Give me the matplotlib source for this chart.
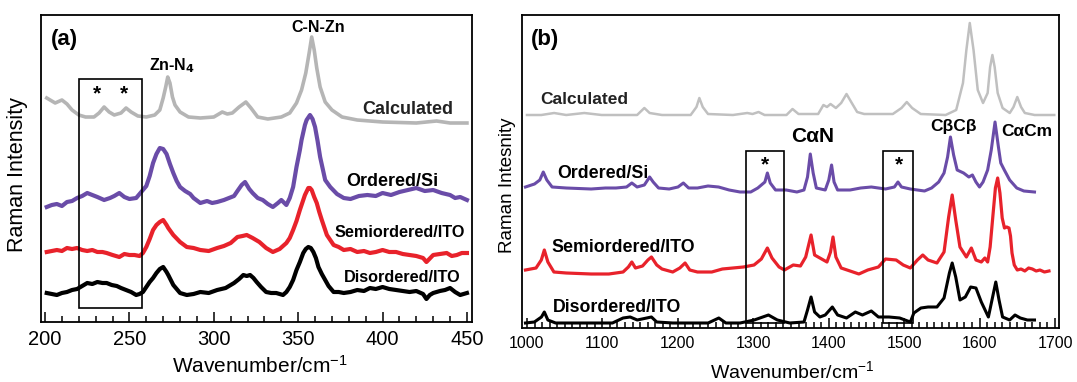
import matplotlib
matplotlib.use("Agg")
import matplotlib.pyplot as plt
from matplotlib.patches import Rectangle
from matplotlib.ticker import MultipleLocator

plt.rcParams['font.family'] = ['Liberation Sans', 'DejaVu Sans']
plt.rcParams['mathtext.default'] = 'regular'

# ---------------- Panel (a) data: wavenumber (cm-1) / intensity (a.u.) ----------------
a_calc_x = [201, 206, 210, 213, 216, 220, 224, 229, 232, 235, 238, 241, 245, 248, 251, 255, 260, 265,
            268, 270, 271.5, 272.7, 274, 275.5, 277, 280, 285, 292, 300, 305, 308, 311, 315, 319, 322,
            326, 332, 340, 345, 349, 352, 354.5, 356.5, 358, 359.5, 361, 363, 366, 370, 376, 385, 400,
            420, 432, 440, 450]
a_calc_y = [224, 219, 222, 218, 212, 207, 205, 205, 209, 215, 210, 207, 209, 214, 210, 206, 205, 207,
            212, 224, 235, 245, 239, 225, 217, 210, 205, 204, 205, 210, 208, 209, 215, 220, 214,
            205, 203, 205, 209, 219, 232, 249, 269, 285, 272, 254, 235, 220, 212, 205, 202, 200,
            199, 201, 199, 199]

a_ord_x = [201, 204, 207, 210, 213, 216, 219, 222, 225, 228, 231, 235, 238.5, 241, 244, 247, 250, 254,
           258, 260, 262, 264, 266, 268, 270, 272, 274, 276, 278, 280, 283, 286, 288, 292, 296, 299,
           302, 306, 309, 312, 314, 316.5, 318.5, 321, 323, 326, 329, 332, 335, 338, 340, 343, 345,
           347, 349, 351, 352, 354, 355, 357, 358.5, 360, 361.5, 363, 366, 369, 373, 377, 381, 386,
           391, 396, 400, 405, 410, 415, 420, 425, 430, 435, 440, 443, 446, 450]
a_ord_y = [115, 117, 118, 116, 120, 121, 124, 126, 129, 127, 125, 122, 124, 126, 129, 125, 123, 124,
           132, 136, 146, 159, 168, 174, 173, 168, 158, 149, 141, 135, 131, 128, 124, 119, 121, 119,
           120, 122, 124, 126, 131, 137, 140, 133, 129, 124, 122, 118, 115, 119, 122, 117, 124,
           135, 155, 172, 182, 197, 202, 207, 203, 195, 181, 165, 142, 135, 128, 124, 123, 126,
           127, 126, 129, 127, 130, 132, 134, 131, 132, 129, 127, 124, 125, 122]

a_semi_x = [201, 204, 207, 210, 213, 216, 219, 222, 225, 228, 231, 234, 236.5, 240, 244, 247, 250, 253,
            256, 258, 260, 262, 264, 266, 268, 270, 272, 273, 276, 280, 284, 288, 292, 297, 302, 306,
            310, 314, 317, 319.5, 323, 327, 331, 335, 339, 343, 345, 347, 349, 351, 353, 354, 356,
            357, 358, 359.5, 361, 362.5, 364, 367, 371, 374, 377, 381, 385, 389, 392.5, 396, 400,
            404, 408, 412, 416, 420, 424, 426, 430, 434, 438, 441, 444, 447, 450]
a_semi_y = [70, 71, 72, 71, 74, 73, 74, 72, 71, 72, 70, 70, 69, 67, 65, 68, 67, 67,
            66, 69, 75, 83, 92, 97, 100, 102, 97, 94, 87, 80, 75, 74, 72, 71, 74, 76,
            79, 85, 86, 87, 84, 80, 74, 70, 73, 79, 84, 92, 101, 112, 122, 127, 134,
            134, 132, 125, 119, 110, 102, 87, 77, 75, 72, 73, 70, 71, 69, 70, 72,
            70, 70, 68, 67, 66, 64, 60, 67, 68, 69, 66, 67, 69, 69]

a_dis_x = [201, 204, 207, 210, 213, 216, 219, 222, 225, 228, 231, 234, 236.5, 239.5, 242.5, 245, 248,
           251, 254, 256, 258, 260, 262, 264, 266, 268, 270, 272, 273, 276, 278, 280, 284, 288, 292,
           297, 302, 307, 312, 315, 317.5, 319.5, 321.5, 323.5, 325.4, 328, 331, 334, 337, 341, 343,
           345, 347, 349, 351, 353, 354.5, 356, 357.5, 359, 360.5, 362, 364, 366, 368, 371, 374,
           377, 381, 385, 389, 392.5, 396, 400, 404, 408, 412, 416, 420, 424, 426, 428, 430, 434,
           437, 440, 443, 446, 450]
a_dis_y = [29, 28, 27, 29, 30, 32, 33, 36, 39, 38, 40, 39, 39, 37, 36, 34, 32,
           30, 27, 28, 30, 35, 40, 44, 49, 53, 55, 50, 47, 37, 33, 29, 27, 28, 30,
           29, 32, 34, 39, 43, 47, 46, 47, 44, 40, 35, 30, 29, 29, 27, 30,
           35, 42, 52, 60, 69, 73, 75, 74, 70, 64, 55, 48, 42, 36, 30, 30,
           29, 30, 32, 31, 34, 33, 35, 33, 32, 31, 30, 31, 28, 23, 27, 29, 31,
           32, 34, 30, 27, 29]

# ---------------- Panel (b) data ----------------
b_calc_x = [1000, 1019, 1036, 1052, 1076, 1099, 1146, 1155.6, 1162.6, 1179, 1217, 1224.7, 1228.5, 1233,
            1240, 1273, 1292, 1299, 1307, 1315, 1344, 1352, 1360, 1386, 1393, 1397.7, 1402.4, 1409.5,
            1416.5, 1423.6, 1430.6, 1437.7, 1447, 1485, 1496.5, 1503.5, 1510.6, 1522, 1555, 1569,
            1578, 1582.5, 1587, 1592, 1597.6, 1604.6, 1610.7, 1614, 1617, 1620, 1624, 1630.5, 1640,
            1645, 1650, 1655, 1660, 1673, 1699]
b_calc_y = [213, 213, 215, 213, 215, 213, 213, 220, 215, 213, 213, 221, 230, 221,
            214, 213, 215, 214, 216, 213, 213, 219, 214, 214, 223, 221, 224, 220,
            225, 234, 225, 216, 214, 214, 220, 226, 220, 214, 213, 218,
            245, 278, 305, 278, 238, 225, 235, 261, 273, 261, 235, 220, 215,
            221, 231, 221, 215, 213, 213]

b_ord_x = [998, 1010, 1017, 1021.6, 1026.3, 1033.3, 1052, 1085, 1104, 1118, 1132, 1139, 1146, 1155.6,
           1162.6, 1167.3, 1174.4, 1188.5, 1200.2, 1207.3, 1214.3, 1226, 1240, 1254, 1268, 1282.5,
           1296.6, 1306, 1315.4, 1318.7, 1322.5, 1329.5, 1343.7, 1357.8, 1367.2, 1371.9, 1375.6,
           1379.4, 1383.6, 1395.4, 1400.1, 1403.8, 1407.1, 1411.8, 1428.3, 1442.4, 1456.5, 1475.3,
           1487.1, 1491.8, 1496.5, 1508.2, 1527, 1536.4, 1545.8, 1552.9, 1557.6, 1561.4, 1565.6,
           1570.3, 1578.8, 1585.8, 1590.5, 1595.2, 1599.9, 1604.6, 1610.7, 1615.5, 1620.5, 1625,
           1628.1, 1632.8, 1639.9, 1649.3, 1658.7, 1672.8]
b_ord_y = [141, 144, 148, 156, 148, 141, 140, 139, 140, 140, 141, 145, 141, 143,
           151, 146, 140, 139, 141, 145, 140, 140, 142, 141, 138, 136,
           136, 140, 146, 155, 145, 138, 138, 136, 138, 151, 174,
           155, 140, 138, 148, 163, 146, 138, 138, 140, 141, 139,
           141, 146, 141, 139, 137, 140, 146, 155, 171, 191, 173,
           158, 155, 151, 153, 146, 141, 146, 158, 178, 206, 181,
           165, 158, 148, 140, 137, 136]

b_semi_x = [998, 1012, 1019, 1023, 1027.7, 1035.7, 1052, 1085, 1108.5, 1127.4, 1134.4, 1139, 1143.8,
            1153.2, 1160.3, 1165, 1172, 1179, 1193.2, 1202.6, 1209.6, 1215.8, 1226, 1245, 1259, 1273,
            1287, 1301, 1310.7, 1318.7, 1324.8, 1334.2, 1341.3, 1353, 1362.5, 1369.5, 1376.6, 1381.3,
            1388.3, 1397.7, 1402.4, 1405.7, 1409.5, 1416.5, 1428.3, 1440, 1451.8, 1465.9, 1475.3,
            1489.4, 1498.8, 1508.2, 1517.6, 1524.7, 1531.7, 1543.5, 1552.9, 1559, 1563.7, 1568.4,
            1574, 1582.5, 1589.1, 1595.2, 1602.3, 1607, 1610.7, 1614, 1618, 1621, 1624, 1627, 1630,
            1633, 1636, 1639, 1641, 1643, 1646, 1650, 1655, 1660, 1665, 1670, 1675, 1680, 1686, 1692]
b_semi_y = [58, 60, 68, 78, 66, 56, 55, 54, 54, 56, 61, 66, 60,
            62, 68, 71, 63, 59, 56, 60, 65, 58, 56, 56, 59, 60,
            61, 63, 69, 80, 70, 61, 58, 63, 62, 71, 93, 73,
            70, 66, 76, 91, 71, 60, 57, 54, 58, 61, 69,
            68, 63, 60, 68, 73, 68, 65, 76, 111, 133, 108,
            81, 71, 80, 68, 66, 70, 66, 81, 115, 140, 150, 135, 110,
            100, 101, 100, 92, 75, 63, 58, 59, 57, 60, 59, 57, 58, 56, 57]

b_dis_x = [998, 1009.8, 1019.2, 1023, 1027.7, 1038, 1061.5, 1085, 1113.3, 1127.4, 1136.8, 1146.2, 1165,
           1172, 1193.2, 1212, 1240.2, 1254.3, 1263.7, 1282.5, 1301.3, 1320.1, 1331.9, 1348.4, 1367.2,
           1371.9, 1376.6, 1381.3, 1388.3, 1395.4, 1404.8, 1411.8, 1423.6, 1435.3, 1444.7, 1456.5,
           1465.9, 1480, 1494.1, 1508.2, 1512.9, 1522.3, 1531.7, 1543.5, 1552.9, 1560, 1563.7,
           1568.4, 1574, 1581.1, 1588.2, 1595.2, 1602.3, 1611.7, 1617.3, 1621.5, 1625.8, 1630.5,
           1639.9, 1647, 1654, 1663.4, 1672.8]
b_dis_y = [5, 6, 11, 16, 8, 5, 5, 5, 5, 10, 11, 8, 11,
           6, 5, 5, 5, 10, 5, 5, 8, 13, 8, 5, 6,
           18, 31, 16, 11, 13, 21, 13, 10, 16, 13, 17,
           11, 11, 10, 6, 15, 20, 21, 21, 30, 55, 65,
           51, 28, 31, 41, 40, 26, 11, 31, 46, 28, 11,
           8, 13, 10, 8, 8]

purple = '#6a4ca8'
red = '#e8222b'

fig = plt.figure(figsize=(10.77, 3.82), dpi=100)
W, H = 1077.0, 382.0
ax1 = fig.add_axes([41 / W, 1 - 322 / H, (472 - 41) / W, (322 - 15) / H])
ax2 = fig.add_axes([522 / W, 1 - 328 / H, (1059 - 522) / W, (328 - 15) / H])

# ---- panel (a)
ax1.plot(a_calc_x, a_calc_y, color='#b5b5b5', lw=2.6, solid_joinstyle='round')
ax1.plot(a_ord_x, a_ord_y, color=purple, lw=3.0, solid_joinstyle='round')
ax1.plot(a_semi_x, a_semi_y, color=red, lw=3.0, solid_joinstyle='round')
ax1.plot(a_dis_x, a_dis_y, color='black', lw=3.0, solid_joinstyle='round')
ax1.set_xlim(197.6, 453)
ax1.set_ylim(0, 307)
ax1.add_patch(Rectangle((220, 14), 37.5, 229, fill=False, ec='black', lw=1.2, zorder=3))
ax1.xaxis.set_major_locator(MultipleLocator(50))
ax1.xaxis.set_minor_locator(MultipleLocator(10))

tb = dict(fontweight='bold', ha='center', va='center')
ax1.text(211.3, 282, '(a)', fontsize=16, **tb)
ax1.text(230.8, 228, '*', fontsize=15, **tb)
ax1.text(246.8, 228, '*', fontsize=15, **tb)
ax1.text(275.2, 256, r'Zn-N$_{\mathbf{4}}$', fontsize=11.5, **tb)
ax1.text(361.7, 295, 'C-N-Zn', fontsize=11.5, **tb)
ax1.text(415, 213, 'Calculated', fontsize=13, color='#222222', **tb)
ax1.text(405.6, 140, 'Ordered/Si', fontsize=13, **tb)
ax1.text(410.3, 89, 'Semiordered/ITO', fontsize=11.7, **tb)
ax1.text(411.5, 45, 'Disordered/ITO', fontsize=11.7, **tb)

# ---- panel (b)
ax2.plot(b_calc_x, b_calc_y, color='#c0c0c0', lw=1.8, solid_joinstyle='round')
ax2.plot(b_ord_x, b_ord_y, color=purple, lw=2.2, solid_joinstyle='round')
ax2.plot(b_semi_x, b_semi_y, color=red, lw=2.3, solid_joinstyle='round')
ax2.plot(b_dis_x, b_dis_y, color='black', lw=2.2, solid_joinstyle='round')
ax2.set_xlim(993.4, 1705.3)
ax2.set_ylim(0, 313)
ax2.add_patch(Rectangle((1290, 5), 51, 172, fill=False, ec='black', lw=1.2, zorder=3))
ax2.add_patch(Rectangle((1471.5, 5), 40.5, 172, fill=False, ec='black', lw=1.2, zorder=3))
ax2.xaxis.set_major_locator(MultipleLocator(100))
ax2.xaxis.set_minor_locator(MultipleLocator(10))

ax2.text(1023.9, 288, '(b)', fontsize=16, **tb)
ax2.text(1315.5, 163, '*', fontsize=15, **tb)
ax2.text(1493.3, 163, '*', fontsize=15, **tb)
ax2.text(1075.6, 229, 'Calculated', fontsize=12.5, color='#222222', **tb)
ax2.text(1100.1, 154, 'Ordered/Si', fontsize=12.8, **tb)
ax2.text(1128, 80, 'Semiordered/ITO', fontsize=12.8, **tb)
ax2.text(1118.7, 21, 'Disordered/ITO', fontsize=12.8, **tb)
ax2.text(1378.6, 192, 'C\u03b1N', fontsize=15, **tb)
ax2.text(1565.8, 201, 'C\u03b2C\u03b2', fontsize=12.5, **tb)
ax2.text(1663.1, 196, 'C\u03b1Cm', fontsize=12.5, **tb)

for ax, fs in ((ax1, 14.5), (ax2, 11.5)):
    ax.set_yticks([])
    for s in ax.spines.values():
        s.set_linewidth(1.3)
    ax.tick_params(axis='x', which='both', direction='in', bottom=True, top=False,
                   labelsize=fs, width=1.1, pad=6)
    ax.tick_params(axis='x', which='major', length=7)
    ax.tick_params(axis='x', which='minor', length=4)

fig.text(18 / W, 1 - 175 / H, 'Raman Intensity', rotation=90, ha='center', va='center', fontsize=15.5)
fig.text(508 / W, 1 - 185 / H, 'Raman Intesnity', rotation=90, ha='center', va='center', fontsize=13.5)
fig.text(260 / W, 1 - 366 / H, r'Wavenumber/cm$^{-1}$', ha='center', va='center', fontsize=15)
fig.text(792 / W, 1 - 371 / H, r'Wavenumber/cm$^{-1}$', ha='center', va='center', fontsize=14)

fig.savefig('out.png', dpi=100)
